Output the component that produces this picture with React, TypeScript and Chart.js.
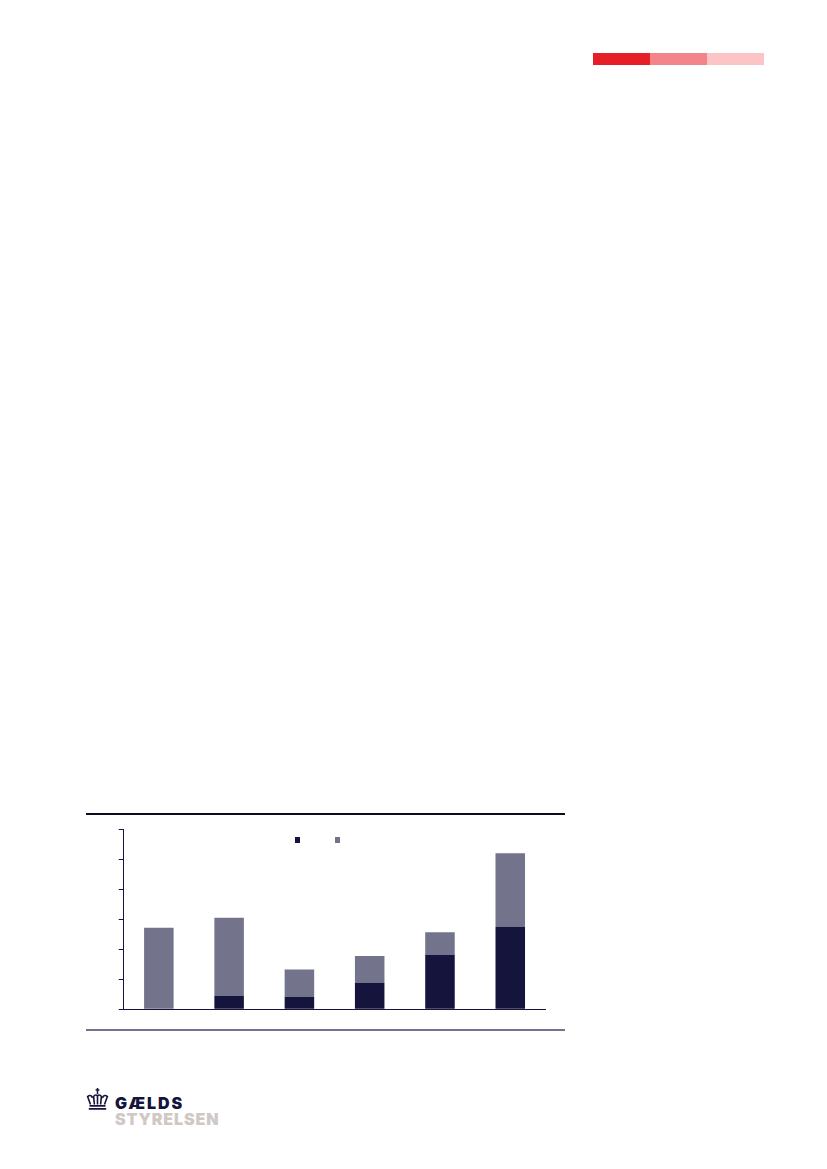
import { useEffect, useRef } from 'react';
import { Chart, registerables } from 'chart.js';

Chart.register(...registerables);

const categories = ['1', '2', '3', '4', '5', '6'];
const darkValues = [0, 4.4, 4.1, 8.8, 18.1, 27.4];
const greyValues = [27.2, 26.1, 9.2, 9, 7.6, 24.6];
const yMax = 60;
const yStep = 10;

const NAVY = '#14143c';
const GREY = '#73738c';
const stripeColors = ['#e61e28', '#f3848a', '#fbc5c8'];
const legendColors = [NAVY, GREY];

function Crown() {
  return (
    <svg
      width="23"
      height="24"
      viewBox="0 0 23 24"
      fill="none"
      stroke={NAVY}
      style={{ position: 'absolute', left: 86, top: 1087 }}
    >
      <path d="M11.5 1v6M9.6 3h3.8" strokeWidth="1.5" />
      <path d="M4.5 17.5 1.6 9.6c2.4-2.2 5-.6 4.6 1.6M18.5 17.5l2.9-7.9c-2.4-2.2-5-.6-4.6 1.6" strokeWidth="1.6" />
      <path d="M8.4 17.5 7.6 9.4c1.4-1.8 2.9-1.6 3.9-.4 1-1.2 2.5-1.4 3.9.4l-.8 8.1M11.5 9v8.5" strokeWidth="1.6" />
      <path d="M3.5 18.8h16M2.8 21.8h17.4" strokeWidth="1.7" />
    </svg>
  );
}

export default function App() {
  const canvasRef = useRef<HTMLCanvasElement | null>(null);

  useEffect(() => {
    if (!canvasRef.current) return;
    const chart = new Chart(canvasRef.current, {
      type: 'bar',
      data: {
        labels: categories,
        datasets: [
          { label: 'Navy', data: darkValues, backgroundColor: NAVY, borderWidth: 0 },
          { label: 'Grey', data: greyValues, backgroundColor: GREY, borderWidth: 0 },
        ],
      },
      options: {
        animation: false,
        responsive: false,
        layout: { padding: { top: 14.3, right: 19.6, left: 0, bottom: 0 } },
        plugins: { legend: { display: false }, tooltip: { enabled: false } },
        datasets: { bar: { categoryPercentage: 0.42, barPercentage: 1 } },
        scales: {
          x: {
            stacked: true,
            grid: { display: false },
            border: { color: NAVY, width: 1 },
            ticks: { display: false },
            afterFit: (scale) => {
              scale.height = 15.7;
            },
          },
          y: {
            stacked: true,
            min: 0,
            max: yMax,
            grid: { drawOnChartArea: false, color: NAVY, tickLength: 5 },
            border: { color: NAVY, width: 1 },
            ticks: { display: false, stepSize: yStep },
            afterFit: (scale) => {
              scale.width = 37.7;
            },
          },
        },
      },
    });
    return () => chart.destroy();
  }, []);

  return (
    <div
      style={{
        position: 'absolute',
        left: 0,
        top: 0,
        width: 827,
        height: 1169,
        overflow: 'hidden',
        background: '#fff',
      }}
    >
      {stripeColors.map((color, i) => (
        <div
          key={color}
          style={{ position: 'absolute', left: 593 + i * 57, top: 53, width: 57, height: 11.5, background: color }}
        />
      ))}

      <div style={{ position: 'absolute', left: 86, top: 813.3, width: 478.5, height: 1.6, background: '#0c0c20' }} />
      <canvas
        ref={canvasRef}
        width={479}
        height={210}
        role="img"
        aria-label="Stacked bar chart"
        style={{ position: 'absolute', left: 86, top: 815, width: 479, height: 210 }}
      />
      <div style={{ position: 'absolute', left: 86, top: 1029, width: 478.5, height: 2, background: GREY }} />

      {legendColors.map((color, i) => (
        <div
          key={color}
          style={{ position: 'absolute', left: 294.5 + i * 40, top: 837, width: 5.5, height: 5.5, background: color }}
        />
      ))}

      <Crown />
      <div
        style={{
          position: 'absolute',
          left: 115,
          top: 1097,
          fontFamily: 'Inter, sans-serif',
          fontWeight: 900,
          fontSize: 16,
          letterSpacing: 1.9,
          lineHeight: '13px',
          color: NAVY,
        }}
      >
        GÆLDS
      </div>
      <div
        style={{
          position: 'absolute',
          left: 115,
          top: 1113,
          fontFamily: 'Inter, sans-serif',
          fontWeight: 900,
          fontSize: 16,
          letterSpacing: 0.9,
          lineHeight: '13px',
          color: '#cfc8c4',
        }}
      >
        STYRELSEN
      </div>
    </div>
  );
}
